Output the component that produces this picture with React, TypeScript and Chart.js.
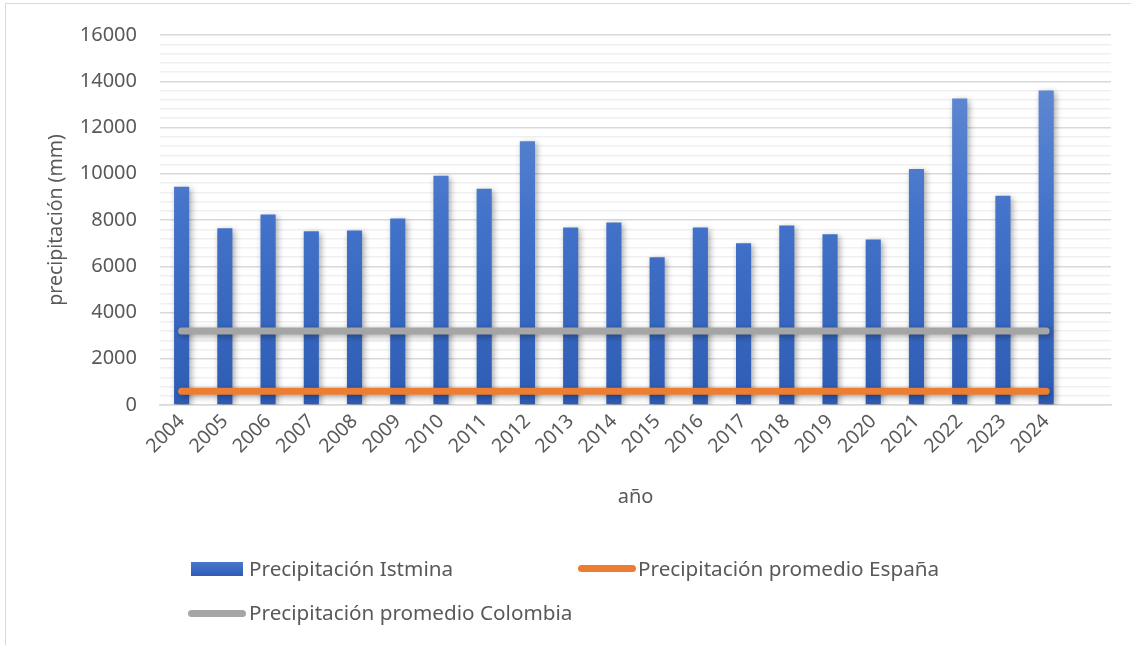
import React, { useEffect, useRef } from "react";
import { Chart, registerables } from "chart.js";

Chart.register(...registerables);

const years = ["2004","2005","2006","2007","2008","2009","2010","2011","2012","2013","2014","2015","2016","2017","2018","2019","2020","2021","2022","2023","2024",""];
const istmina = [9440, 7640, 8240, 7510, 7550, 8060, 9910, 9350, 11410, 7680, 7890, 6390, 7680, 6990, 7760, 7380, 7160, 10210, 13250, 9050, 13600, null];
const espana = [590, 590, 590, 590, 590, 590, 590, 590, 590, 590, 590, 590, 590, 590, 590, 590, 590, 590, 590, 590, 590, null];
const colombia = [3200, 3200, 3200, 3200, 3200, 3200, 3200, 3200, 3200, 3200, 3200, 3200, 3200, 3200, 3200, 3200, 3200, 3200, 3200, 3200, 3200, null];
const seriesNames = ["Precipitación Istmina", "Precipitación promedio España", "Precipitación promedio Colombia"];
const yMax = 16000;
const yStep = 400;
const yLabelStep = 2000;

const FONT = "'Noto Sans', 'Open Sans', sans-serif";
const TEXT = "#595959";

const shadowPlugin = {
  id: "softShadow",
  beforeDatasetDraw(chart: any) {
    const ctx = chart.ctx;
    ctx.save();
    ctx.shadowColor = "rgba(0,0,0,0.35)";
    ctx.shadowBlur = 6;
    ctx.shadowOffsetX = 2;
    ctx.shadowOffsetY = 2;
  },
  afterDatasetDraw(chart: any) {
    chart.ctx.restore();
  },
};

export default function App() {
  const ref = useRef<HTMLCanvasElement | null>(null);
  useEffect(() => {
    if (!ref.current) return;
    const chart = new Chart(ref.current, {
      type: "bar",
      data: {
        labels: years,
        datasets: [
          {
            type: "line",
            label: seriesNames[1],
            data: espana,
            borderColor: "#ed7d31",
            borderWidth: 7,
            borderCapStyle: "round",
            pointRadius: 0,
            order: 1,
          } as any,
          {
            type: "line",
            label: seriesNames[2],
            data: colombia,
            borderColor: "#a5a5a5",
            borderWidth: 7,
            borderCapStyle: "round",
            pointRadius: 0,
            order: 0,
          } as any,
          {
            type: "bar",
            label: seriesNames[0],
            data: istmina,
            order: 2,
            barPercentage: 0.35,
            categoryPercentage: 1,
            backgroundColor: (c: any) => {
              const area = c.chart.chartArea;
              if (!area) return "#4472c4";
              const g = c.chart.ctx.createLinearGradient(0, area.top, 0, area.bottom);
              g.addColorStop(0, "#6a90d4");
              g.addColorStop(0.5, "#4272ca");
              g.addColorStop(1, "#2e5cb5");
              return g;
            },
          },
        ],
      },
      options: {
        animation: false,
        responsive: false,
        maintainAspectRatio: false,
        layout: { padding: { left: 43, right: 20, top: 16, bottom: 132 } },
        plugins: { legend: { display: false }, tooltip: { enabled: false } },
        scales: {
          x: {
            offset: true,
            grid: { display: false, drawTicks: false },
            border: { display: true, color: "#d9d9d9", width: 1.5 },
            ticks: {
              color: TEXT,
              font: { family: FONT, size: 19.5 },
              maxRotation: 45,
              minRotation: 45,
              autoSkip: false,
              padding: 5,
            },
            title: { display: true, text: "año", color: TEXT, font: { family: FONT, size: 20 }, padding: 4 },
            afterFit: (s: any) => { s.height = 108; },
          },
          y: {
            min: 0,
            max: yMax,
            border: { display: false },
            grid: {
              drawTicks: false,
              color: (c: any) => (c.tick && c.tick.value % yLabelStep === 0 ? "#d9d9d9" : "#f0f0f0"),
              lineWidth: 1.5,
            },
            ticks: {
              stepSize: yStep,
              autoSkip: false,
              color: TEXT,
              padding: 23,
              font: { family: FONT, size: 20 },
              callback: (v: any) => (Number(v) % yLabelStep === 0 ? String(v) : ""),
            },
            title: { display: true, text: "precipitación (mm)", color: TEXT, font: { family: FONT, size: 19.5 }, padding: 2 },
            afterFit: (s: any) => { s.width = 117; },
          },
        },
      },
      plugins: [shadowPlugin],
    } as any);
    return () => chart.destroy();
  }, []);

  const legendText: React.CSSProperties = {
    position: "absolute",
    fontFamily: FONT,
    fontSize: 20.7,
    color: TEXT,
    lineHeight: "24px",
    whiteSpace: "nowrap",
  };

  return (
    <div style={{ position: "fixed", left: 0, top: 0, width: 1131, height: 645, overflow: "hidden", background: "#fff" }}>
      <div style={{ position: "absolute", left: 5, top: 3, width: 1140, height: 660, border: "1px solid #d9d9d9", boxSizing: "border-box" }} />
      <canvas ref={ref} width={1131} height={645} style={{ position: "absolute", left: 0, top: 0, width: 1131, height: 645 }} />
      <div style={{ position: "absolute", left: 191, top: 562, width: 52, height: 14, background: "linear-gradient(#4a78cc, #2e5cb5)" }} />
      <div style={{ ...legendText, left: 249, top: 556 }}>{seriesNames[0]}</div>
      <div style={{ position: "absolute", left: 578, top: 565, width: 58, height: 7, borderRadius: 4, background: "#ed7d31" }} />
      <div style={{ ...legendText, left: 638, top: 556 }}>{seriesNames[1]}</div>
      <div style={{ position: "absolute", left: 188, top: 610, width: 58, height: 7, borderRadius: 4, background: "#a5a5a5" }} />
      <div style={{ ...legendText, left: 249, top: 600 }}>{seriesNames[2]}</div>
    </div>
  );
}
